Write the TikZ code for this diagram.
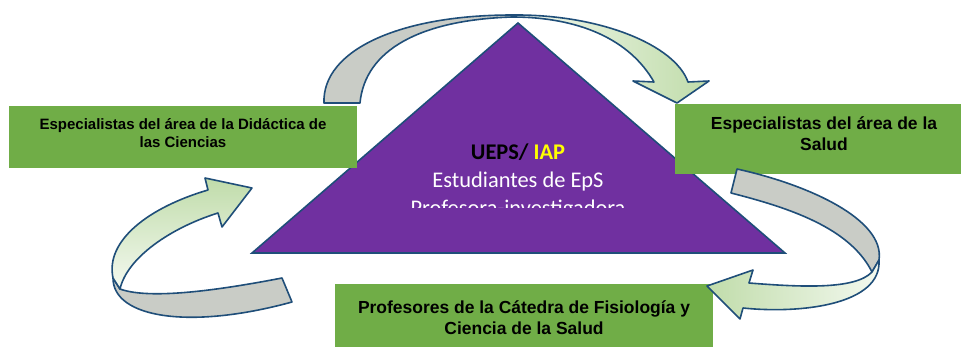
\documentclass[tikz,border=0pt]{standalone}
\usepackage{fontspec}
\setmainfont{Liberation Sans}
\newfontfamily\calibrifont{Carlito}
\definecolor{boxgreen}{HTML}{70AD47}
\definecolor{tripurple}{HTML}{7030A0}
\definecolor{rimblue}{HTML}{1F4E79}
\definecolor{backgray}{HTML}{C9CCC6}
\definecolor{palegreen}{HTML}{F4F9F0}
\definecolor{deepgreen}{HTML}{C0DCAA}
\definecolor{iapyellow}{HTML}{FFFF00}
\tikzset{green box/.style={fill=boxgreen,
                           inner sep=0pt}}
\tikzset{box text/.style={font=\bfseries\fontsize{13.1}{15.75}\selectfont,
                          align=center,
                          inner sep=0pt}}
\tikzset{ribbon/.style={draw=rimblue,
                        line width=1.2pt,
                        line join=round}}

\begin{document}
\begin{tikzpicture}
    [
      x=0.75pt, y=-0.75pt,
      small box text/.style={box text,
      font=\bfseries\fontsize{11.25}{13.5}\selectfont},
    ]
    \useasboundingbox (0,0) rectangle (961,347);

    % triangle
    \coordinate (apex) at (518,23);
    \coordinate (base right) at (785,253);
    \coordinate (base left) at (252,253);
    \draw [fill=tripurple,draw=rimblue,line width=1.2pt] (apex) -- (base right) -- (base left) -- cycle;
    \begin{scope}
      \clip (380,130) rectangle (660,207);
      \node [font=\calibrifont\fontsize{16.8}{21}\selectfont,text=white,align=center,inner sep=0pt]
        (ueps) at (518,182) {\textbf{\color{black}UEPS/ \color{iapyellow}IAP}\\Estudiantes de EpS\\Profesora-investigadora};
    \end{scope}

    % boxes
    \node [green box,minimum width=261pt,minimum height=46.5pt] (didactica) at (183,137) {};
    \node [green box,minimum width=214.5pt,minimum height=52.5pt] (salud) at (818,139) {};
    \node [green box,minimum width=283.5pt,minimum height=47.25pt] (catedra) at (524,315.5) {};
    \node [small box text] (didactica text) at (183,133) {Especialistas del área de la Didáctica de\\las Ciencias};
    \node [box text] (salud text) at (824,134) {Especialistas del área de la\\Salud};
    \node [box text] (catedra text) at (524,318) {Profesores de la Cátedra de Fisiología y\\Ciencia de la Salud};

    % arrows
    \path [ribbon,fill=backgray] (324,103) .. controls (322,50) and (400,15) .. (512,15)
      -- (512,17) .. controls (420,20) and (365,50) .. (360,103) -- cycle;
    \path [ribbon,left color=palegreen,right color=deepgreen] (512,15) .. controls (600,14) and (675,45) .. (688,82)
      -- (709,81) -- (677,103) -- (633,81) -- (654,82) .. controls (630,40) and (580,17) .. (512,17) -- cycle;

    \path [ribbon,fill=backgray] (737,169) .. controls (810,185) and (885,220) .. (879,260)
      -- (872,272) .. controls (850,228) and (790,208) .. (731,193) -- cycle;
    \path [ribbon,left color=deepgreen,right color=palegreen] (879,260) .. controls (882,305) and (800,314) .. (743,308)
      -- (740,319) -- (707,286) -- (753,270) -- (749,283) .. controls (800,287) and (855,290) .. (872,272) -- cycle;

    \path [ribbon,fill=backgray] (282,278) .. controls (220,290) and (150,300) .. (120,289)
      -- (113,278) .. controls (113,318) and (190,330) .. (292,302) -- cycle;
    \path [ribbon,top color=deepgreen,bottom color=palegreen] (113,278) .. controls (105,240) and (150,207) .. (208,190)
      -- (205,178) -- (252,188) -- (222,227) -- (218,213) .. controls (170,228) and (127,258) .. (120,289) -- cycle;

  \end{tikzpicture}
\end{document}
